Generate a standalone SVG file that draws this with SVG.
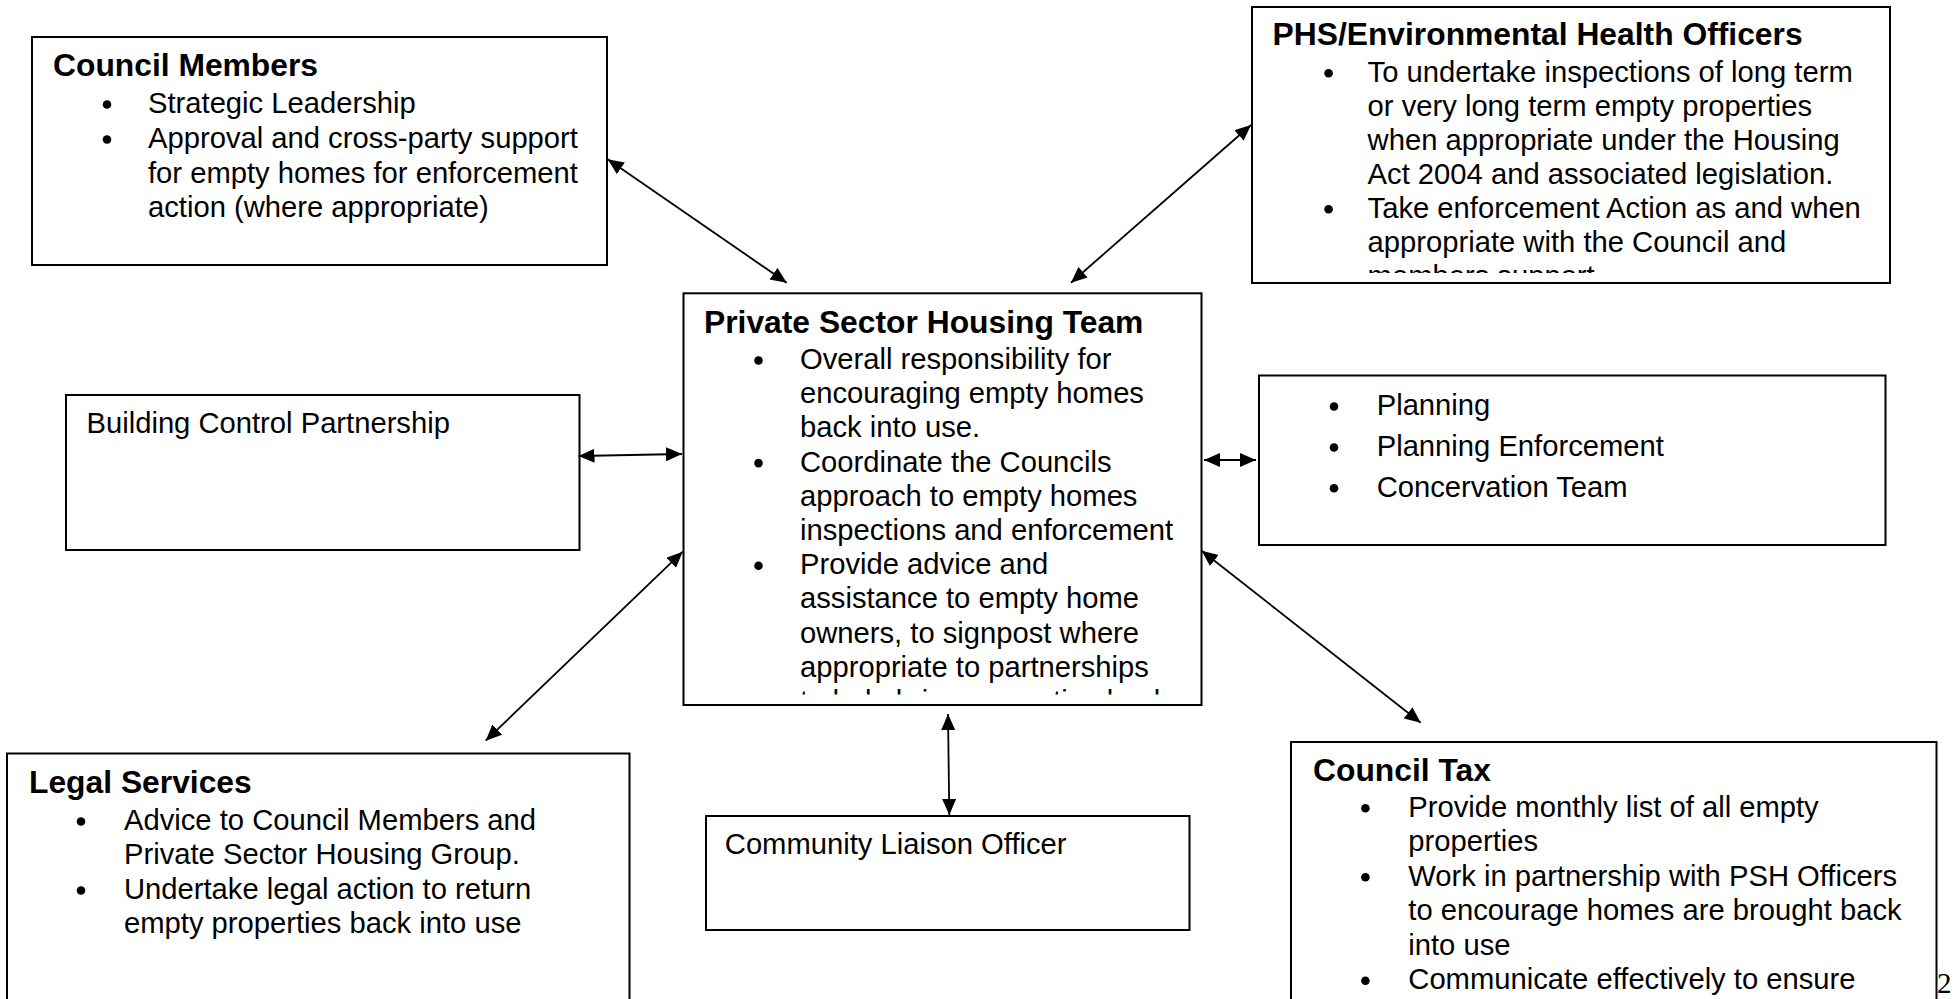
<svg xmlns="http://www.w3.org/2000/svg" width="1954" height="999" viewBox="0 0 1954 999">
<style>
.box{fill:#fff;stroke:#000;stroke-width:2}
.t{font-family:"Liberation Sans",Arial,sans-serif;font-size:29.2px;fill:#000}
.h{font-family:"Liberation Sans",Arial,sans-serif;font-size:31.8px;font-weight:bold;fill:#000}
.b{fill:#000}
.c{stroke:#000;stroke-width:1.8;fill:none;marker-start:url(#ah);marker-end:url(#ah)}
.pg{font-family:"Liberation Serif","Times New Roman",serif;font-size:29px;fill:#000}
</style>
<defs>
<marker id="ah" markerUnits="userSpaceOnUse" markerWidth="17" markerHeight="15" refX="16" refY="7" orient="auto-start-reverse" viewBox="0 0 17 15">
<path d="M0,0 L16,7 L0,14 z" fill="#000"/>
</marker>
<clipPath id="clipPSH"><rect x="684" y="294" width="517" height="400.5"/></clipPath>
<clipPath id="clipPHS"><rect x="1252" y="8" width="637" height="265"/></clipPath>
</defs>
<rect width="1954" height="999" fill="#fff"/>

<g id="council-members">
<rect class="box" x="32" y="37" width="575" height="228"/>
<text class="h" x="53" y="76">Council Members</text>
<circle class="b" cx="107" cy="104.5" r="4.3"/>
<circle class="b" cx="107" cy="139.5" r="4.3"/>
<text class="t" x="148" y="113">Strategic Leadership</text>
<text class="t" x="148" y="148">Approval and cross-party support</text>
<text class="t" x="148" y="183">for empty homes for enforcement</text>
<text class="t" x="148" y="217">action (where appropriate)</text>
</g>

<g id="phs-ehos">
<rect class="box" x="1252" y="7" width="638" height="276"/>
<text class="h" x="1272.5" y="45">PHS/Environmental Health Officers</text>
<g clip-path="url(#clipPHS)">
<circle class="b" cx="1328.6" cy="73.2" r="4.3"/>
<circle class="b" cx="1328.6" cy="209.2" r="4.3"/>
<text class="t" x="1367.6" y="81.7">To undertake inspections of long term</text>
<text class="t" x="1367.6" y="115.7">or very long term empty properties</text>
<text class="t" x="1367.6" y="149.7">when appropriate under the Housing</text>
<text class="t" x="1367.6" y="183.7">Act 2004 and associated legislation.</text>
<text class="t" x="1367.6" y="217.7">Take enforcement Action as and when</text>
<text class="t" x="1367.6" y="251.7">appropriate with the Council and</text>
<text class="t" x="1367.6" y="285.7">members support</text>
</g>
</g>

<g id="private-sector-housing-team">
<rect class="box" x="683.5" y="293.3" width="518" height="411.7"/>
<text class="h" x="704" y="332.7">Private Sector Housing Team</text>
<g clip-path="url(#clipPSH)">
<circle class="b" cx="758.5" cy="360.5" r="4.3"/>
<circle class="b" cx="758.5" cy="463.1" r="4.3"/>
<circle class="b" cx="758.5" cy="565.7" r="4.3"/>
<text class="t" x="800" y="369">Overall responsibility for</text>
<text class="t" x="800" y="403.2">encouraging empty homes</text>
<text class="t" x="800" y="437.4">back into use.</text>
<text class="t" x="800" y="471.6">Coordinate the Councils</text>
<text class="t" x="800" y="505.8">approach to empty homes</text>
<text class="t" x="800" y="540">inspections and enforcement</text>
<text class="t" x="800" y="574.2">Provide advice and</text>
<text class="t" x="800" y="608.4">assistance to empty home</text>
<text class="t" x="800" y="642.6">owners, to signpost where</text>
<text class="t" x="800" y="676.8">appropriate to partnerships</text>
<text class="t" x="800" y="711">to help bring properties back</text>
</g>
</g>

<g id="building-control">
<rect class="box" x="66" y="395" width="513.5" height="155"/>
<text class="t" x="86.5" y="433.3">Building Control Partnership</text>
</g>

<g id="planning">
<rect class="box" x="1259" y="375.5" width="626.5" height="169.5"/>
<circle class="b" cx="1334" cy="406.5" r="4.3"/>
<circle class="b" cx="1334" cy="447.5" r="4.3"/>
<circle class="b" cx="1334" cy="488.2" r="4.3"/>
<text class="t" x="1376.7" y="415">Planning</text>
<text class="t" x="1376.7" y="456">Planning Enforcement</text>
<text class="t" x="1376.7" y="496.7">Concervation Team</text>
</g>

<g id="legal-services">
<rect class="box" x="7" y="753.5" width="622.5" height="260"/>
<text class="h" x="29" y="792.7">Legal Services</text>
<circle class="b" cx="81" cy="821.5" r="4.3"/>
<circle class="b" cx="81" cy="890.5" r="4.3"/>
<text class="t" x="124" y="830">Advice to Council Members and</text>
<text class="t" x="124" y="864">Private Sector Housing Group.</text>
<text class="t" x="124" y="899">Undertake legal action to return</text>
<text class="t" x="124" y="933">empty properties back into use</text>
</g>

<g id="community-liaison">
<rect class="box" x="706" y="816" width="483.5" height="114"/>
<text class="t" x="724.8" y="854">Community Liaison Officer</text>
</g>

<g id="council-tax">
<rect class="box" x="1291" y="742" width="645.5" height="270"/>
<text class="h" x="1313" y="780.7">Council Tax</text>
<circle class="b" cx="1365.4" cy="808.2" r="4.3"/>
<circle class="b" cx="1365.4" cy="877.2" r="4.3"/>
<circle class="b" cx="1365.4" cy="980.7" r="4.3"/>
<text class="t" x="1408.3" y="816.7">Provide monthly list of all empty</text>
<text class="t" x="1408.3" y="851.2">properties</text>
<text class="t" x="1408.3" y="885.7">Work in partnership with PSH Officers</text>
<text class="t" x="1408.3" y="920.2">to encourage homes are brought back</text>
<text class="t" x="1408.3" y="954.7">into use</text>
<text class="t" x="1408.3" y="989.2">Communicate effectively to ensure</text>
</g>

<g id="connectors">
<line class="c" x1="607.7" y1="159.3" x2="786.7" y2="282.7"/>
<line class="c" x1="1251" y1="125" x2="1071" y2="282.7"/>
<line class="c" x1="578.5" y1="456" x2="682" y2="454"/>
<line class="c" x1="1204" y1="460" x2="1256" y2="460"/>
<line class="c" x1="682.7" y1="551.7" x2="485.7" y2="740.7"/>
<line class="c" x1="948" y1="714" x2="949.3" y2="815"/>
<line class="c" x1="1201.7" y1="550.7" x2="1420.7" y2="722.7"/>
</g>

<text class="pg" x="1937" y="993">2</text>
</svg>
